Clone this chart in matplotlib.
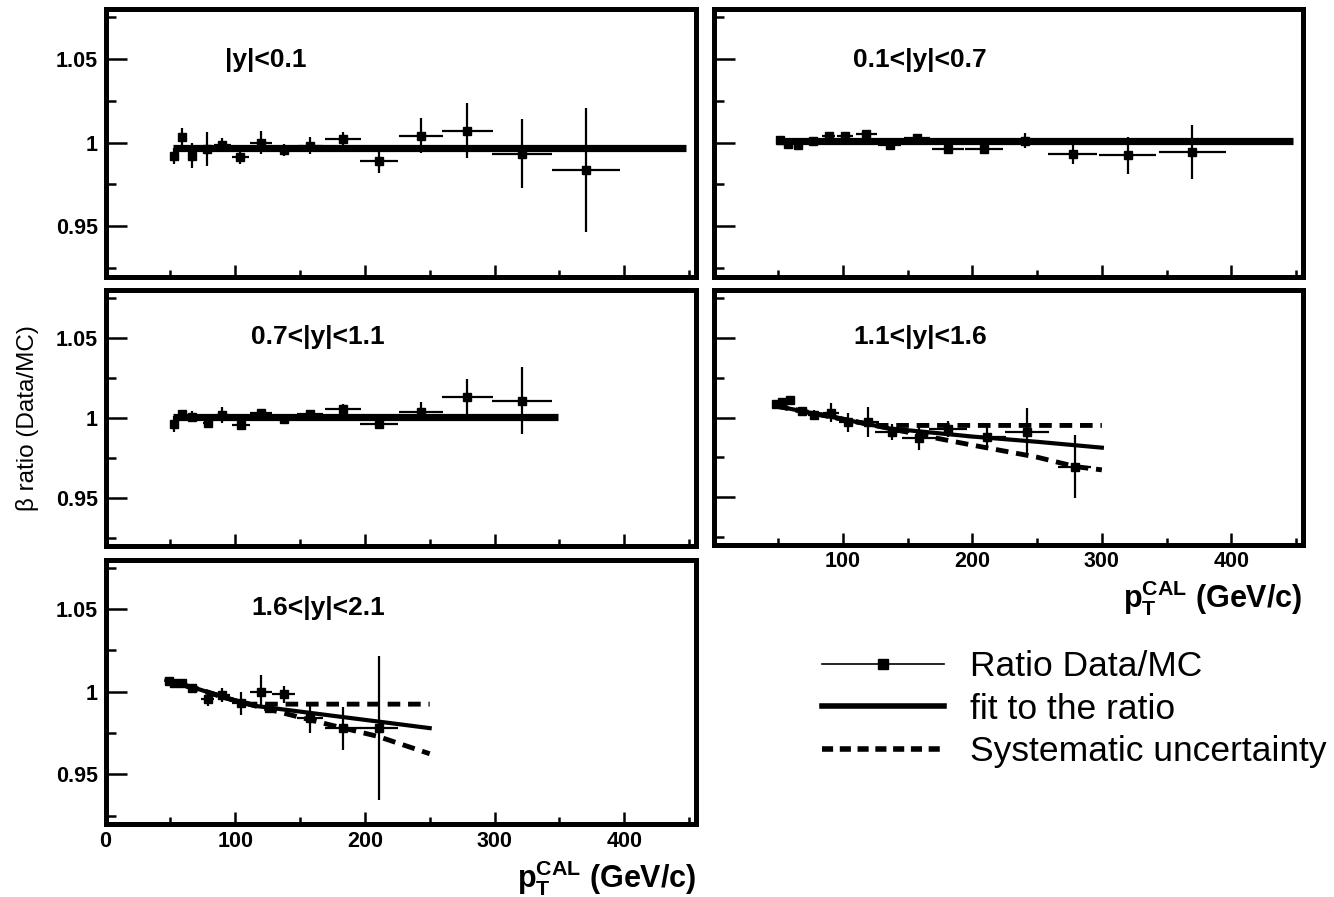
import matplotlib
matplotlib.use("Agg")
import matplotlib.pyplot as plt
from matplotlib.lines import Line2D

plt.rcParams['font.family'] = ['Liberation Sans', 'DejaVu Sans']
plt.rcParams['mathtext.fontset'] = 'custom'
plt.rcParams['mathtext.bf'] = 'Liberation Sans:bold'
plt.rcParams['mathtext.rm'] = 'Liberation Sans'

# ---------------- data ----------------
titles = ["|y|<0.1", "0.1<|y|<0.7", "0.7<|y|<1.1", "1.1<|y|<1.6", "1.6<|y|<2.1"]

# |y|<0.1
x1 = [52.5, 59.3, 67, 78.5, 90, 104, 120, 137.5, 158, 183, 211, 243, 279, 321, 370.5]
y1 = [0.992, 1.0034, 0.992, 0.996, 0.9986, 0.9914, 1.000, 0.9954, 0.998, 1.002, 0.989, 1.004, 1.007, 0.9934, 0.9835]
ey1 = [0.005, 0.0055, 0.0075, 0.010, 0.004, 0.004, 0.007, 0.0035, 0.005, 0.004, 0.007, 0.0104, 0.0164, 0.0204, 0.0368]
ex1 = [1.5, 2, 2, 3, 6.5, 6.5, 8.5, 9, 9.5, 13.7, 14.5, 17, 19.5, 23, 26]
fit1_x = [52, 448]
fit1_y = [0.997, 0.997]

# 0.1<|y|<0.7
x2 = [51.6, 57.8, 65.6, 76.6, 89, 101.6, 118, 136, 157, 181, 209, 240.6, 277.5, 320, 370]
y2 = [1.0016, 0.999, 0.9986, 1.001, 1.0036, 1.0036, 1.005, 0.9986, 1.0024, 0.996, 0.996, 1.001, 0.993, 0.9924, 0.9944]
ey2 = [0.002, 0.0015, 0.0015, 0.002, 0.0015, 0.0015, 0.002, 0.002, 0.0015, 0.002, 0.0025, 0.0045, 0.006, 0.011, 0.016]
ex2 = [2, 2.5, 3, 4, 5, 6, 8, 9, 10, 12.5, 15, 17, 19, 22, 26]
fit2_x = [49, 448]
fit2_y = [1.001, 1.001]

# 0.7<|y|<1.1
x3 = [52.5, 59, 67, 79, 90, 104.4, 120, 137.5, 158, 183, 211, 243, 279, 321]
y3 = [0.9962, 1.0025, 1.001, 0.9969, 1.0019, 0.9956, 1.0036, 0.9998, 1.0025, 1.006, 0.9967, 1.004, 1.0134, 1.011]
ey3 = [0.005, 0.002, 0.0035, 0.0025, 0.005, 0.002, 0.002, 0.0015, 0.002, 0.003, 0.0035, 0.006, 0.011, 0.021]
ex3 = [2, 2.5, 3, 4, 5, 7, 8.5, 9, 10, 14, 14.5, 17, 19.5, 23]
fit3_x = [52, 349]
fit3_y = [1.001, 1.001]

# 1.1<|y|<1.6
x4 = [48.4, 53, 59.4, 68, 78, 90.6, 104, 119.7, 137.8, 158.75, 181, 211, 242, 279]
y4 = [1.0082, 1.0099, 1.0109, 1.004, 1.0015, 1.003, 0.9969, 0.9973, 0.991, 0.9868, 0.993, 0.9878, 0.991, 0.969]
ey4 = [0.0015, 0.0015, 0.0015, 0.002, 0.003, 0.006, 0.006, 0.0095, 0.005, 0.007, 0.005, 0.007, 0.015, 0.020]
ex4 = [2, 2, 3, 4, 5, 6, 7, 8.5, 13, 13, 14.5, 15, 17, 13]
fit4_x = [48, 136, 200, 250, 300]
fit4_y = [1.0073, 0.9931, 0.988, 0.9847, 0.981]
sysup4_x = [48, 125, 300]
sysup4_y = [1.0073, 0.995, 0.995]
syslo4_x = [48, 136, 167, 200, 250, 280, 300]
syslo4_y = [1.0073, 0.9931, 0.9878, 0.9826, 0.975, 0.969, 0.967]

# 1.6<|y|<2.1
x5 = [49, 52.5, 59, 67, 79, 90, 104.4, 120, 126, 137.5, 158, 183, 211]
y5 = [1.0064, 1.005, 1.005, 1.0024, 0.9956, 0.998, 0.993, 1.0, 0.990, 0.9984, 0.984, 0.978, 0.978]
ey5 = [0.0015, 0.0015, 0.0015, 0.002, 0.0045, 0.0045, 0.007, 0.010, 0.002, 0.005, 0.009, 0.013, 0.0437]
ex5 = [2, 2, 3, 4, 5, 6, 7, 8.5, 4, 9, 10, 14, 14.5]
fit5_x = [47, 70, 100, 115, 160, 250]
fit5_y = [1.007, 1.002, 0.9946, 0.9915, 0.987, 0.978]
sysup5_x = [47, 70, 100, 112, 250]
sysup5_y = [1.007, 1.002, 0.9946, 0.9925, 0.9925]
syslo5_x = [47, 100, 120, 173, 210, 250]
syslo5_y = [1.007, 0.9946, 0.9905, 0.980, 0.973, 0.9625]

ymajor = [0.95, 1.0, 1.05]
ymajor_labels = ["0.95", "1", "1.05"]
yminor = [0.925, 0.975, 1.025, 1.075]
xmajor = [100, 200, 300, 400]
xminor = [50, 150, 250, 350, 450]

legend_labels = ["Ratio Data/MC", "fit to the ratio", "Systematic uncertainty"]

# ---------------- figure ----------------
W, H = 1334, 897
fig = plt.figure(figsize=(W / 100, H / 100), dpi=100)


def add_ax(l, r, t, b):
    return fig.add_axes([l / W, 1 - b / H, (r - l) / W, (b - t) / H])


boxes = [
    (105.5, 695.5, 8.5, 276.5),
    (713.5, 1302.5, 8.5, 276.5),
    (105.5, 695.5, 290.5, 546),
    (713.5, 1302.5, 290.5, 544.5),
    (105.5, 695.5, 559.5, 824),
]
title_pos = [(266, 60), (920, 60), (318, 337), (920, 337), (318, 608)]

data = [
    (x1, y1, ex1, ey1, (fit1_x, fit1_y), None, None),
    (x2, y2, ex2, ey2, (fit2_x, fit2_y), None, None),
    (x3, y3, ex3, ey3, (fit3_x, fit3_y), None, None),
    (x4, y4, ex4, ey4, (fit4_x, fit4_y), (sysup4_x, sysup4_y), (syslo4_x, syslo4_y)),
    (x5, y5, ex5, ey5, (fit5_x, fit5_y), (sysup5_x, sysup5_y), (syslo5_x, syslo5_y)),
]

for i, (box, d) in enumerate(zip(boxes, data)):
    ax = add_ax(*box)
    x, y, ex, ey, fit, sup, slo = d
    ax.errorbar(x, y, yerr=ey, xerr=ex, fmt='s', color='k', ms=5.5,
                elinewidth=1.6, capsize=0, zorder=3)
    if sup is None:
        ax.plot(fit[0], fit[1], color='k', lw=5.2, solid_capstyle='butt', zorder=2)
    else:
        ax.plot(fit[0], fit[1], color='k', lw=3.0, zorder=2)
        ax.plot(sup[0], sup[1], color='k', lw=3.5, linestyle=(0, (2.6, 1.6)), zorder=2)
        ax.plot(slo[0], slo[1], color='k', lw=3.5, linestyle=(0, (2.6, 1.6)), zorder=2)

    ax.set_xlim(0, 455)
    ax.set_ylim(0.92, 1.08)
    for s in ax.spines.values():
        s.set_linewidth(3.6)

    ax.set_yticks(ymajor)
    ax.set_yticks(yminor, minor=True)
    if i in (0, 2, 4):
        ax.set_yticklabels(ymajor_labels)
    else:
        ax.set_yticklabels([])
    if i == 4:
        ax.set_xticks([0] + xmajor)
        ax.set_xticklabels(["0"] + [str(v) for v in xmajor])
    else:
        ax.set_xticks(xmajor)
        if i == 3:
            ax.set_xticklabels([str(v) for v in xmajor])
        else:
            ax.set_xticklabels([])
    ax.set_xticks(xminor, minor=True)

    ax.tick_params(axis='y', which='major', direction='in', length=15, width=1.8,
                   labelsize=15.5, pad=5.5)
    ax.tick_params(axis='y', which='minor', direction='in', length=7, width=1.8)
    ax.tick_params(axis='x', which='major', direction='in', length=9, width=1.8,
                   labelsize=15.5, pad=5)
    ax.tick_params(axis='x', which='minor', direction='in', length=5, width=1.8)
    for lab in ax.get_xticklabels() + ax.get_yticklabels():
        lab.set_fontweight('bold')

    tx, ty = title_pos[i]
    fig.text(tx / W, 1 - ty / H, titles[i], ha='center', va='center',
             fontsize=19, fontweight='bold')

xlabel = r'$\mathbf{p}_{\mathbf{T}}^{\mathbf{CAL}}$ (GeV/c)'
fig.text(1302 / W, 1 - 578 / H, xlabel, ha='right', va='top', fontsize=22, fontweight='bold')
fig.text(696 / W, 1 - 858 / H, xlabel, ha='right', va='top', fontsize=22, fontweight='bold')

fig.text(28 / W, 1 - 418 / H, "β ratio (Data/MC)", rotation=90, ha='center', va='center',
         fontsize=17.5, family=['Liberation Sans Narrow', 'Liberation Sans', 'DejaVu Sans'])

handles = [
    Line2D([], [], color='k', lw=1.2, marker='s', ms=7),
    Line2D([], [], color='k', lw=4),
    Line2D([], [], color='k', lw=4, linestyle=(0, (2.0, 1.2))),
]
fig.legend(handles, legend_labels, loc='center left',
           bbox_to_anchor=(822 / W, 1 - 709 / H), frameon=False, fontsize=25.5,
           handlelength=3.45, handletextpad=0.72, labelspacing=0.27, borderpad=0,
           borderaxespad=0, numpoints=1)

fig.savefig("out.png", dpi=100)
